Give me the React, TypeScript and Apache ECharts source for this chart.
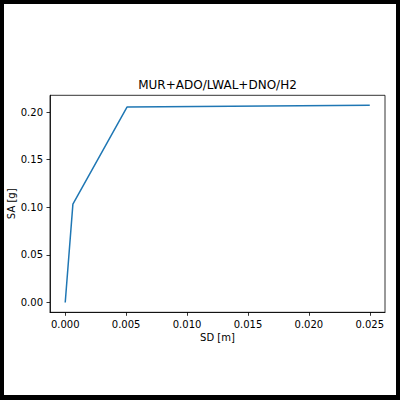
import React, { useEffect, useRef } from "react";
import * as echarts from "echarts";

const sdValues = [0.0, 0.00063, 0.00507, 0.025];
const saValues = [0.0, 0.1033, 0.2052, 0.2072];
const xTicks = [0, 0.005, 0.01, 0.015, 0.02, 0.025];
const yTicks = [0, 0.05, 0.1, 0.15, 0.2];
const titleText = "MUR+ADO/LWAL+DNO/H2";
const xName = "SD [m]";
const yName = "SA [g]";

const FONT = "DejaVu Sans";

export default function App() {
  const ref = useRef<HTMLDivElement>(null);
  useEffect(() => {
    if (!ref.current) return;
    const chart = echarts.init(ref.current, undefined, { renderer: "svg" });
    const xMin = 0, xMax = 0.025;
    const yMin = 0, yMax = 0.2072;
    const xm = (xMax - xMin) * 0.05;
    const ym = (yMax - yMin) * 0.05;
    const gridLeft = 50, gridTop = 95.3, gridW = 335, gridH = 217;
    chart.setOption({
      animation: false,
      backgroundColor: "#fff",
      grid: {
        left: gridLeft,
        top: gridTop,
        width: gridW,
        height: gridH,
        containLabel: false,
        outerBoundsMode: "none",
        show: true,
        borderColor: "#000",
        borderWidth: 0.8,
        backgroundColor: "transparent",
      },
      xAxis: {
        type: "value",
        min: xMin - xm,
        max: xMax + xm,
        name: xName,
        nameLocation: "middle",
        nameGap: 20,
        nameMoveOverlap: false,
        nameTextStyle: { fontFamily: FONT, fontSize: 10, color: "#000" },
        axisLine: { show: true, onZero: false, lineStyle: { color: "#000", width: 0.8 } },
        axisTick: { show: true, inside: false, length: 3.5, customValues: xTicks, lineStyle: { color: "#000", width: 0.8 } },
        axisLabel: {
          customValues: xTicks,
          margin: 7,
          fontFamily: FONT,
          fontSize: 10,
          color: "#000",
          formatter: (v: number) => v.toFixed(3),
        },
        splitLine: { show: false },
      },
      yAxis: {
        type: "value",
        min: yMin - ym,
        max: yMax + ym,
        name: yName,
        nameLocation: "middle",
        nameRotate: 90,
        nameGap: 34,
        nameMoveOverlap: false,
        nameTextStyle: { fontFamily: FONT, fontSize: 10, color: "#000" },
        axisLine: { show: true, onZero: false, lineStyle: { color: "#000", width: 0.8 } },
        axisTick: { show: true, inside: false, length: 3.5, customValues: yTicks, lineStyle: { color: "#000", width: 0.8 } },
        axisLabel: {
          customValues: yTicks,
          margin: 7,
          fontFamily: FONT,
          fontSize: 10,
          color: "#000",
          formatter: (v: number) => v.toFixed(2),
        },
        splitLine: { show: false },
      },
      series: [
        {
          type: "line",
          data: sdValues.map((x, i) => [x, saValues[i]]),
          showSymbol: false,
          symbol: "none",
          lineStyle: { color: "#1f77b4", width: 1.5 },
          itemStyle: { color: "#1f77b4" },
        },
      ],
      graphic: [
        {
          type: "text",
          x: gridLeft + gridW / 2,
          y: 85,
          style: {
            text: titleText,
            fontFamily: FONT,
            fontSize: 12,
            fill: "#000",
            align: "center",
            verticalAlign: "middle",
          },
        },
        { type: "rect", shape: { x: 0, y: 0, width: 400, height: 4 }, style: { fill: "#000" } },
        { type: "rect", shape: { x: 0, y: 395, width: 400, height: 5 }, style: { fill: "#000" } },
        { type: "rect", shape: { x: 0, y: 0, width: 4, height: 400 }, style: { fill: "#000" } },
        { type: "rect", shape: { x: 396, y: 0, width: 4, height: 400 }, style: { fill: "#000" } },
      ],
    });
    return () => chart.dispose();
  }, []);
  return (
    <div
      ref={ref}
      style={{ position: "fixed", left: 0, top: 0, width: 400, height: 400 }}
    />
  );
}
